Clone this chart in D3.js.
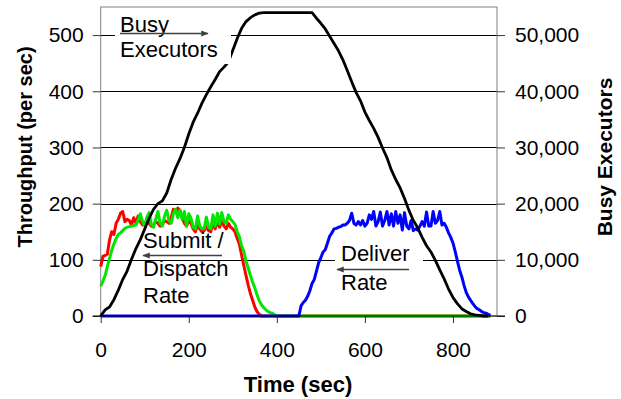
<!DOCTYPE html>
<html>
<head>
<meta charset="utf-8">
<script src="https://cdn.jsdelivr.net/npm/d3@7/dist/d3.min.js"></script>
<style>
  html, body { margin: 0; padding: 0; background: #fff; }
  svg { display: block; }
  text { font-family: "Liberation Sans", Arial, sans-serif; fill: #000; }
</style>
</head>
<body>
<svg id="chart" width="621" height="399"></svg>
<script>
// Executors busy over time (right axis), sampled every 10 s
const busyTimes = d3.range(0, 890, 10);
const busyValues = [
  0, 1100, 1600, 2900, 4600, 6500, 8000, 10100, 12000, 13600,
  15500, 17400, 19000, 20000, 20500, 21900, 24300, 26300, 28000, 30000,
  32400, 34500, 36100, 37900, 39400, 40800, 42100, 43500, 44300, 45200,
  47300, 49400, 51200, 52400, 53100, 53600, 53900, 54000, 54000, 54000,
  54000, 54000, 54000, 54000, 54000, 54000, 54000, 54000, 54000, 53000,
  52100, 51100, 49800, 48500, 47200, 45600, 43700, 41700, 39800, 38300,
  36300, 34800, 33400, 31800, 29900, 28200, 26000, 24300, 22800, 20900,
  18800, 17000, 15700, 14000, 12500, 11400, 9900, 8200, 6600, 4800,
  3300, 2200, 1300, 800, 400, 200, 100, 0, 0
];

// Submit rate (per sec), sampled every 5 s
const submitTimes = d3.range(0, 890, 5);
const submitValues = [
  88, 106, 108, 110, 135, 150, 145, 165, 172, 183,
  186, 168, 172, 170, 162, 175, 165, 178, 168, 162,
  165, 170, 165, 160, 162, 168, 165, 160, 162, 170,
  168, 165, 175, 190, 185, 192, 188, 175, 165, 160,
  170, 165, 155, 150, 162, 155, 150, 152, 160, 152,
  150, 165, 155, 168, 158, 170, 160, 155, 165, 158,
  155, 150, 138, 128, 108, 90, 72, 55, 40, 28,
  16, 8, 3, 0, 0, 0, 0, 0, 0, 0,
  0, 0, 0, 0, 0, 0, 0, 0, 0, 0,
  0, 0, 0, 0, 0, 0, 0, 0, 0, 0,
  0, 0, 0, 0, 0, 0, 0, 0, 0, 0,
  0, 0, 0, 0, 0, 0, 0, 0, 0, 0,
  0, 0, 0, 0, 0, 0, 0, 0, 0, 0,
  0, 0, 0, 0, 0, 0, 0, 0, 0, 0,
  0, 0, 0, 0, 0, 0, 0, 0, 0, 0,
  0, 0, 0, 0, 0, 0, 0, 0, 0, 0,
  0, 0, 0, 0, 0, 0, 0, 0, 0, 0,
  0, 0, 0, 0, 0, 0, 0, 0
];

// Dispatch rate (per sec), sampled every 5 s
const dispatchValues = [
  53, 62, 72, 88, 102, 117, 128, 138, 145, 148,
  152, 156, 158, 159, 160, 161, 162, 170, 182, 168,
  160, 176, 184, 163, 158, 172, 186, 165, 160, 178,
  188, 170, 165, 182, 190, 175, 188, 172, 186, 160,
  182, 174, 158, 155, 178, 160, 155, 156, 176, 158,
  155, 180, 160, 183, 164, 184, 168, 165, 180, 172,
  168, 163, 150, 141, 125, 115, 98, 85, 72, 60,
  50, 38, 27, 20, 15, 11, 8, 6, 5, 2,
  0, 0, 0, 0, 0, 0, 0, 0, 0, 0,
  0, 0, 0, 0, 0, 0, 0, 0, 0, 0,
  0, 0, 0, 0, 0, 0, 0, 0, 0, 0,
  0, 0, 0, 0, 0, 0, 0, 0, 0, 0,
  0, 0, 0, 0, 0, 0, 0, 0, 0, 0,
  0, 0, 0, 0, 0, 0, 0, 0, 0, 0,
  0, 0, 0, 0, 0, 0, 0, 0, 0, 0,
  0, 0, 0, 0, 0, 0, 0, 0, 0, 0,
  0, 0, 0, 0, 0, 0, 0, 0, 0, 0,
  0, 0, 0, 0, 0, 0, 0, 0
];

// Deliver rate (per sec), sampled every 5 s
const deliverValues = [
  0, 0, 0, 0, 0, 0, 0, 0, 0, 0,
  0, 0, 0, 0, 0, 0, 0, 0, 0, 0,
  0, 0, 0, 0, 0, 0, 0, 0, 0, 0,
  0, 0, 0, 0, 0, 0, 0, 0, 0, 0,
  0, 0, 0, 0, 0, 0, 0, 0, 0, 0,
  0, 0, 0, 0, 0, 0, 0, 0, 0, 0,
  0, 0, 0, 0, 0, 0, 0, 0, 0, 0,
  0, 0, 0, 0, 0, 0, 0, 0, 0, 0,
  0, 0, 0, 0, 0, 0, 0, 0, 0, 0,
  0, 18, 24, 28, 35, 45, 58, 65, 80, 95,
  104, 114, 118, 130, 142, 148, 155, 156, 158, 159,
  162, 162, 165, 170, 183, 165, 162, 168, 162, 170,
  160, 165, 180, 172, 186, 160, 168, 185, 160, 170,
  186, 162, 182, 160, 186, 165, 180, 153, 184, 160,
  155, 170, 152, 155, 153, 160, 168, 160, 185, 160,
  160, 186, 165, 170, 186, 162, 165, 158, 148, 140,
  130, 115, 98, 82, 70, 55, 42, 34, 28, 22,
  17, 13, 11, 8, 6, 5, 3, 1
];

const xTicks = [0, 200, 400, 600, 800];
const leftTicks = [0, 100, 200, 300, 400, 500];
const rightTicks = [0, 10000, 20000, 30000, 40000, 50000];

const svg = d3.select("#chart");

const x = d3.scaleLinear().domain([0, 900]).range([100.7, 497]);
const yL = d3.scaleLinear().domain([0, 550]).range([316, 7]);
const yR = d3.scaleLinear().domain([0, 55000]).range([316, 7]);

// horizontal gridlines
svg.append("g")
  .selectAll("line")
  .data(leftTicks.slice(1))
  .join("line")
  .attr("x1", x(0)).attr("x2", x(900))
  .attr("y1", d => Math.round(yL(d)) + 0.5).attr("y2", d => Math.round(yL(d)) + 0.5)
  .attr("stroke", "#000").attr("stroke-width", 1);

// plot frame
svg.append("rect")
  .attr("x", x(0)).attr("y", yL(550))
  .attr("width", x(900) - x(0)).attr("height", yL(0) - yL(550))
  .attr("fill", "none").attr("stroke", "#808080").attr("stroke-width", 1);

function series(times, values) {
  return times.map((t, i) => [t, values[i]]);
}
const lineL = d3.line().x(d => x(d[0])).y(d => yL(d[1]));
const lineR = d3.line().x(d => x(d[0])).y(d => yR(d[1]));

svg.append("path").datum(series(submitTimes, submitValues))
  .attr("d", lineL).attr("fill", "none").attr("stroke", "#ff0000")
  .attr("stroke-width", 3).attr("stroke-linejoin", "round");
svg.append("path").datum(series(submitTimes, dispatchValues))
  .attr("d", lineL).attr("fill", "none").attr("stroke", "#00e600")
  .attr("stroke-width", 3).attr("stroke-linejoin", "round");
svg.append("path").datum(series(submitTimes, deliverValues))
  .attr("d", lineL).attr("fill", "none").attr("stroke", "#0000ff")
  .attr("stroke-width", 3).attr("stroke-linejoin", "round");
svg.append("path").datum(series(busyTimes, busyValues))
  .attr("d", lineR).attr("fill", "none").attr("stroke", "#000")
  .attr("stroke-width", 2.8).attr("stroke-linejoin", "round");

// axes
const axisFont = "21px";
const gl = svg.append("g").attr("transform", `translate(${x(0)},0)`)
  .call(d3.axisLeft(yL).tickValues(leftTicks).tickSize(8).tickPadding(9));
const gr = svg.append("g").attr("transform", `translate(${x(900)},0)`)
  .call(d3.axisRight(yR).tickValues(rightTicks).tickSize(8).tickPadding(10)
    .tickFormat(d3.format(",")));
const gb = svg.append("g").attr("transform", `translate(0,${yL(0)})`)
  .call(d3.axisBottom(x).tickValues(xTicks).tickSize(7).tickPadding(19));
[gl, gr, gb].forEach(g => {
  g.select(".domain").remove();
  g.selectAll(".tick line").attr("stroke", "#333");
  g.selectAll(".tick text").style("font-size", axisFont)
    .style("font-family", '"Liberation Sans", Arial, sans-serif').attr("fill", "#000");
});
svg.append("line").attr("x1", x(0) - 8).attr("x2", x(900) + 8)
  .attr("y1", yL(0)).attr("y2", yL(0)).attr("stroke", "#000").attr("stroke-width", 1);

// axis titles
svg.append("text").attr("transform", "translate(32,147) rotate(-90)")
  .attr("text-anchor", "middle").style("font-size", "20px").style("font-weight", "bold")
  .text("Throughput (per sec)");
svg.append("text").attr("transform", "translate(612,157) rotate(-90)")
  .attr("text-anchor", "middle").style("font-size", "21px").style("font-weight", "bold")
  .text("Busy Executors");
svg.append("text").attr("x", 298).attr("y", 392)
  .attr("text-anchor", "middle").style("font-size", "22px").style("font-weight", "bold")
  .text("Time (sec)");

// arrowhead marker
svg.append("defs").append("marker")
  .attr("id", "head").attr("viewBox", "0 0 10 10").attr("refX", 9).attr("refY", 5)
  .attr("markerWidth", 5).attr("markerHeight", 5).attr("orient", "auto")
  .append("path").attr("d", "M0,1 L10,5 L0,9 Z").attr("fill", "#404040");

// annotations
function note(box, lines, arrow) {
  const g = svg.append("g");
  if (box) g.append("rect").attr("x", box[0]).attr("y", box[1])
    .attr("width", box[2]).attr("height", box[3]).attr("fill", "#fff");
  lines.forEach(l => g.append("text").attr("x", l[1]).attr("y", l[2])
    .style("font-size", "22px").text(l[0]));
  g.append("line").attr("x1", arrow[0]).attr("y1", arrow[1])
    .attr("x2", arrow[2]).attr("y2", arrow[3])
    .attr("stroke", "#404040").attr("stroke-width", 1.5)
    .attr("marker-end", "url(#head)");
}
note([115, 9, 116, 55], [["Busy", 120, 32], ["Executors", 120, 57]], [120, 33.5, 208, 33.5]);
note(null, [["Submit /", 143, 248], ["Dispatch", 143, 276], ["Rate", 143, 303]], [222, 255.5, 143, 255.5]);
note([335, 242, 88, 54], [["Deliver", 341, 261], ["Rate", 341, 290]], [409, 269.5, 337, 269.5]);
</script>
</body>
</html>
